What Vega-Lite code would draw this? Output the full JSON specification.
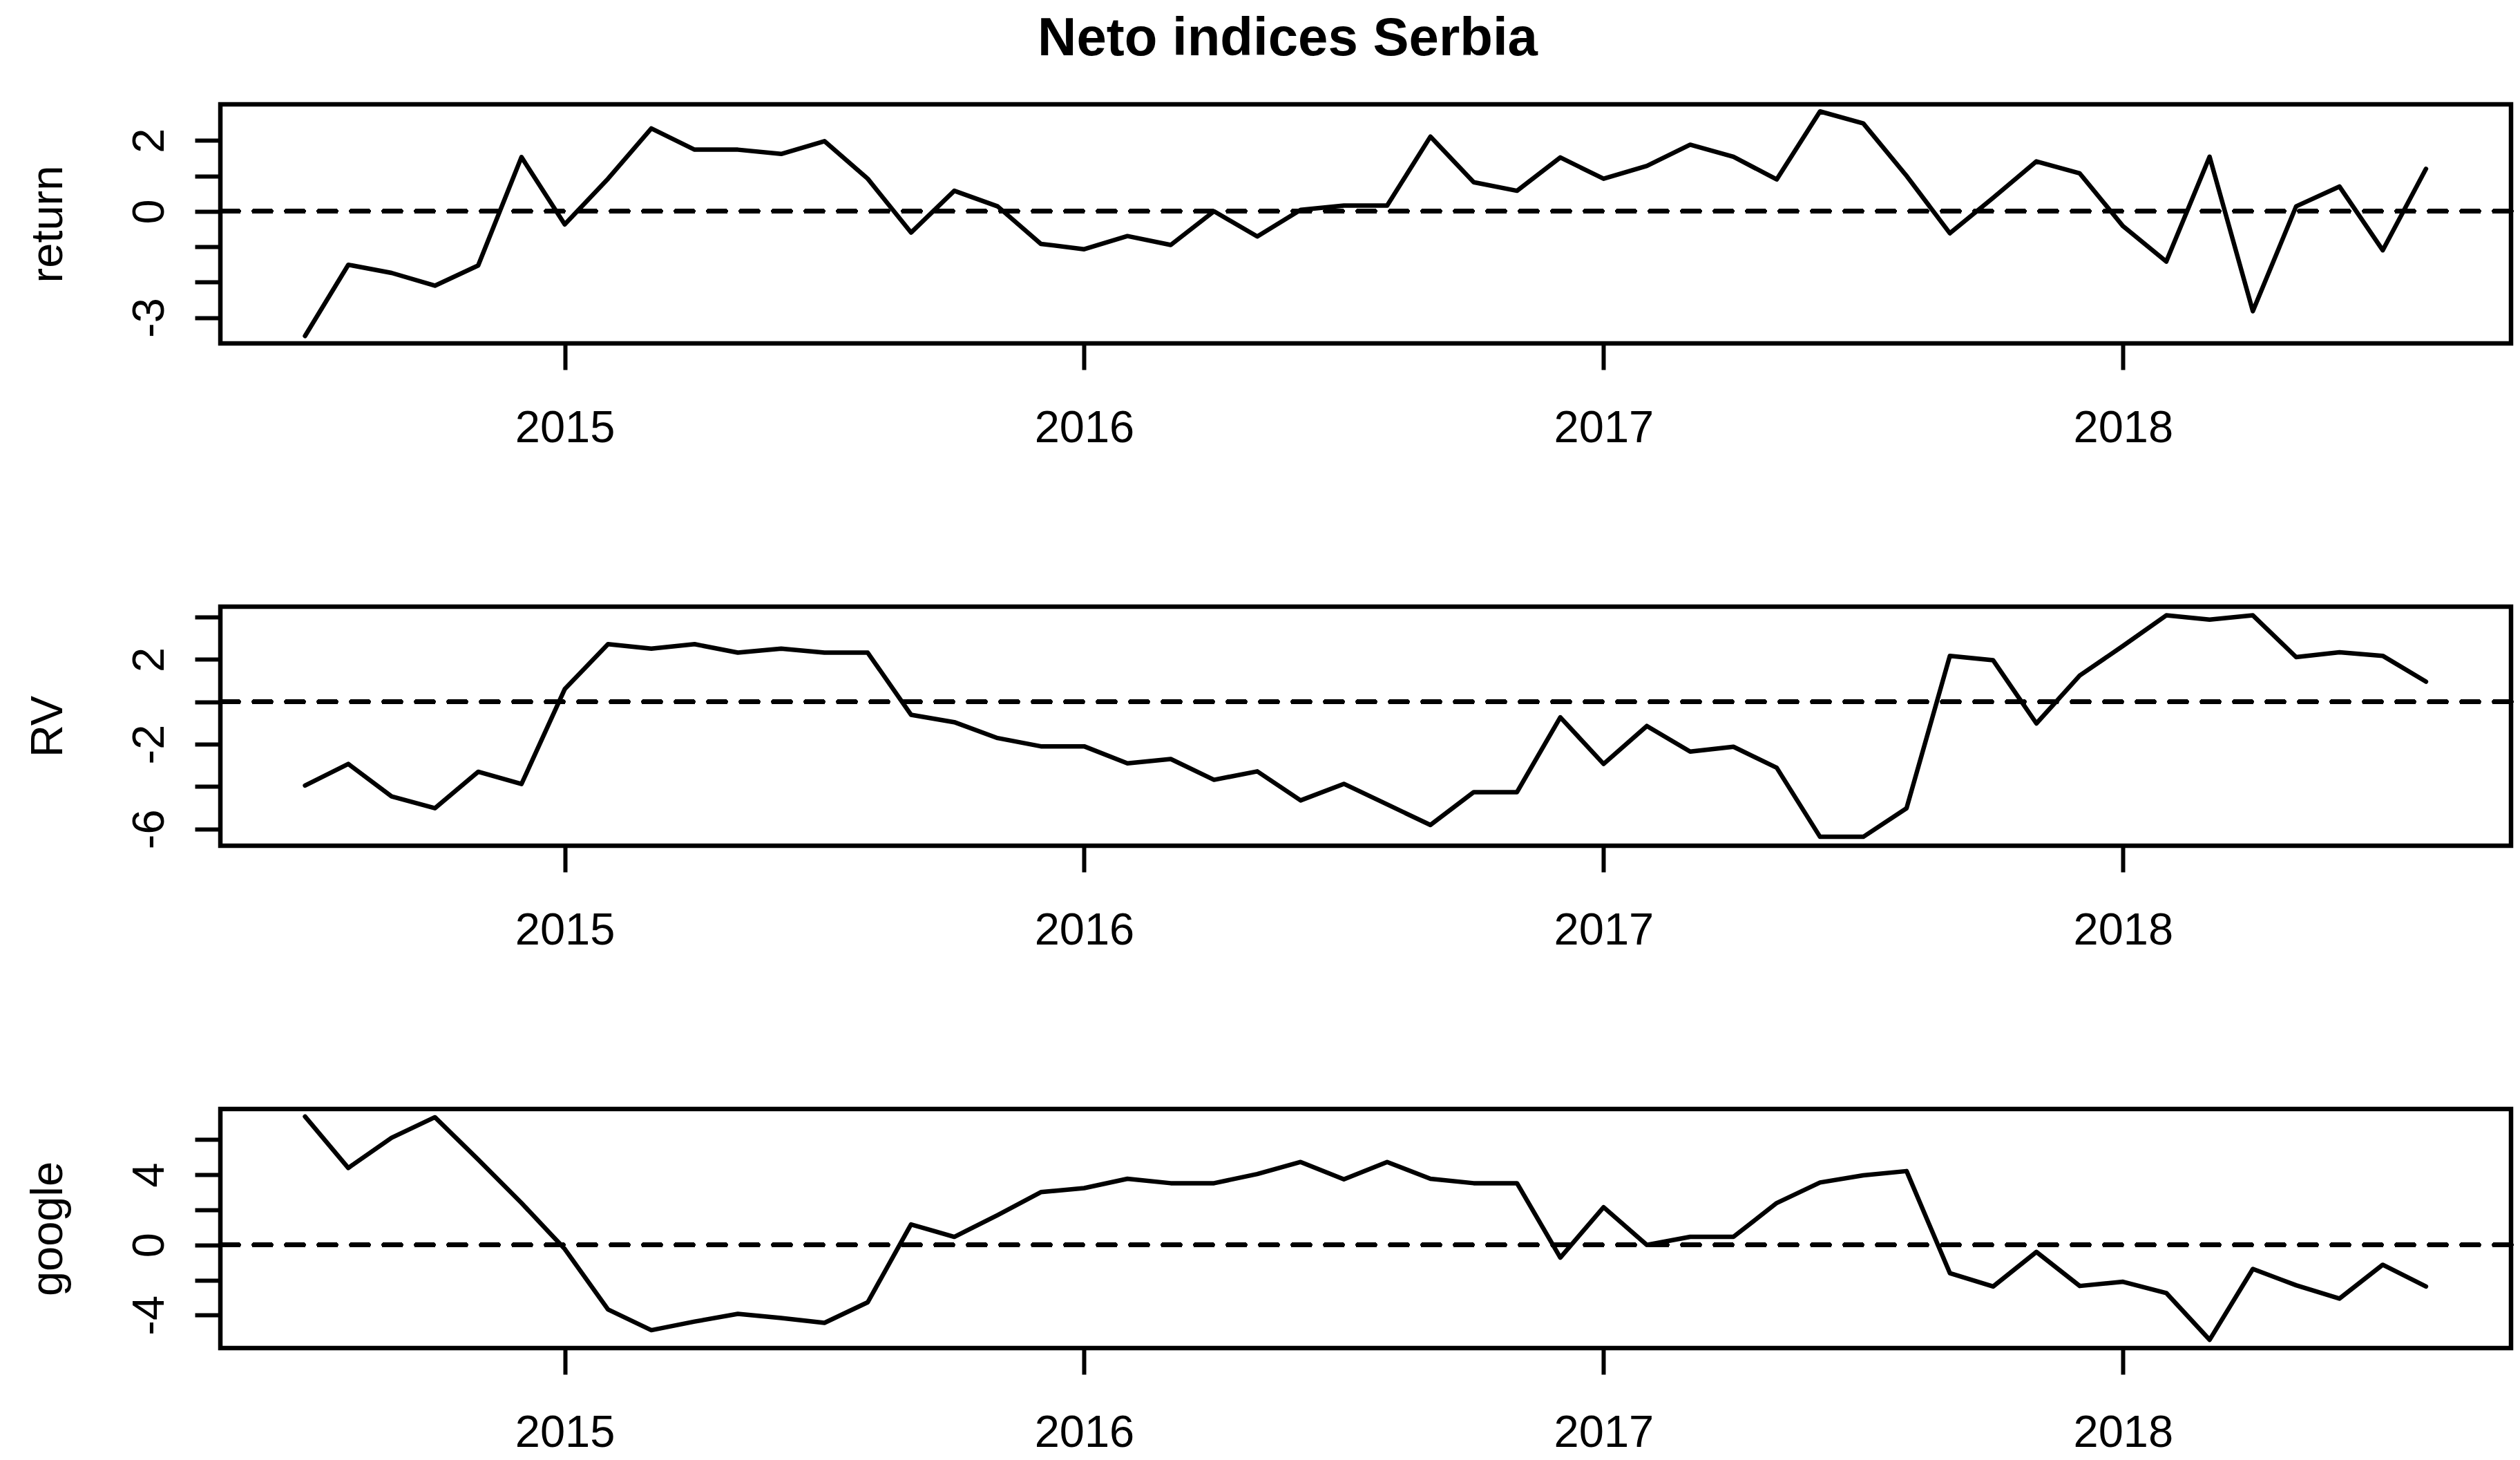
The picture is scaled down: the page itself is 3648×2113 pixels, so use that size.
{
  "$schema": "https://vega.github.io/schema/vega-lite/v6.json",
  "background": "white",
  "padding": {"left": 33, "top": 17, "right": 10, "bottom": 10},
  "title": {"text": "Neto indices Serbia", "fontSize": 78, "fontWeight": "bold", "font": "Liberation Sans", "color": "black", "anchor": "middle", "frame": "group", "offset": -10, "baseline": "alphabetic", "dx": -113},
  "config": {
    "view": {"stroke": "black", "strokeWidth": 6.5},
    "font": "Liberation Sans",
    "axis": {"domain": false, "grid": false, "tickColor": "black", "tickWidth": 6, "tickSize": 37, "labelFont": "Liberation Sans", "labelFontSize": 65, "labelColor": "black", "titleFont": "Liberation Sans", "titleFontSize": 65, "titleFontWeight": "normal", "titleColor": "black", "labelOverlap": false, "labelFlush": false}
  },
  "datasets": {
    "d": [
      {"time": 2014.5, "return": -3.52, "RV": -3.95, "google": 7.32},
      {"time": 2014.5833, "return": -1.51, "RV": -2.93, "google": 4.39},
      {"time": 2014.6667, "return": -1.74, "RV": -4.46, "google": 6.11},
      {"time": 2014.75, "return": -2.10, "RV": -5.02, "google": 7.28},
      {"time": 2014.8333, "return": -1.53, "RV": -3.30, "google": 4.87},
      {"time": 2014.9167, "return": 1.53, "RV": -3.88, "google": 2.39},
      {"time": 2015.0, "return": -0.37, "RV": 0.60, "google": -0.23},
      {"time": 2015.0833, "return": 0.92, "RV": 2.72, "google": -3.68},
      {"time": 2015.1667, "return": 2.34, "RV": 2.51, "google": -4.86},
      {"time": 2015.25, "return": 1.74, "RV": 2.72, "google": -4.37},
      {"time": 2015.3333, "return": 1.74, "RV": 2.32, "google": -3.93},
      {"time": 2015.4167, "return": 1.62, "RV": 2.51, "google": -4.17},
      {"time": 2015.5, "return": 1.98, "RV": 2.32, "google": -4.44},
      {"time": 2015.5833, "return": 0.92, "RV": 2.32, "google": -3.27},
      {"time": 2015.6667, "return": -0.60, "RV": -0.61, "google": 1.17},
      {"time": 2015.75, "return": 0.58, "RV": -0.96, "google": 0.46},
      {"time": 2015.8333, "return": 0.14, "RV": -1.71, "google": 1.70},
      {"time": 2015.9167, "return": -0.92, "RV": -2.10, "google": 3.01},
      {"time": 2016.0, "return": -1.07, "RV": -2.10, "google": 3.24},
      {"time": 2016.0833, "return": -0.70, "RV": -2.90, "google": 3.77},
      {"time": 2016.1667, "return": -0.95, "RV": -2.70, "google": 3.52},
      {"time": 2016.25, "return": 0.00, "RV": -3.68, "google": 3.52},
      {"time": 2016.3333, "return": -0.71, "RV": -3.28, "google": 4.04},
      {"time": 2016.4167, "return": 0.04, "RV": -4.65, "google": 4.73},
      {"time": 2016.5, "return": 0.16, "RV": -3.87, "google": 3.74},
      {"time": 2016.5833, "return": 0.16, "RV": -4.84, "google": 4.73},
      {"time": 2016.6667, "return": 2.11, "RV": -5.81, "google": 3.77},
      {"time": 2016.75, "return": 0.82, "RV": -4.26, "google": 3.52},
      {"time": 2016.8333, "return": 0.58, "RV": -4.26, "google": 3.52},
      {"time": 2016.9167, "return": 1.52, "RV": -0.73, "google": -0.72},
      {"time": 2017.0, "return": 0.92, "RV": -2.93, "google": 2.15},
      {"time": 2017.0833, "return": 1.28, "RV": -1.14, "google": 0.00},
      {"time": 2017.1667, "return": 1.88, "RV": -2.35, "google": 0.46},
      {"time": 2017.25, "return": 1.54, "RV": -2.12, "google": 0.46},
      {"time": 2017.3333, "return": 0.90, "RV": -3.11, "google": 2.39},
      {"time": 2017.4167, "return": 2.82, "RV": -6.37, "google": 3.56},
      {"time": 2017.5, "return": 2.48, "RV": -6.37, "google": 3.97},
      {"time": 2017.5833, "return": 1.00, "RV": -5.02, "google": 4.21},
      {"time": 2017.6667, "return": -0.62, "RV": 2.17, "google": -1.61},
      {"time": 2017.75, "return": 0.38, "RV": 1.96, "google": -2.37},
      {"time": 2017.8333, "return": 1.41, "RV": -1.02, "google": -0.40},
      {"time": 2017.9167, "return": 1.07, "RV": 1.24, "google": -2.34},
      {"time": 2018.0, "return": -0.42, "RV": 2.64, "google": -2.10},
      {"time": 2018.0833, "return": -1.42, "RV": 4.08, "google": -2.74},
      {"time": 2018.1667, "return": 1.54, "RV": 3.88, "google": -5.41},
      {"time": 2018.25, "return": -2.82, "RV": 4.08, "google": -1.37},
      {"time": 2018.3333, "return": 0.14, "RV": 2.11, "google": -2.30},
      {"time": 2018.4167, "return": 0.70, "RV": 2.34, "google": -3.06},
      {"time": 2018.5, "return": -1.10, "RV": 2.17, "google": -1.13},
      {"time": 2018.5833, "return": 1.20, "RV": 0.95, "google": -2.37}
    ]
  },
  "spacing": 381,
  "bounds": "flush",
  "vconcat": [
    {
      "width": 3316, "height": 346,
      "data": {"name": "d"},
      "layer": [
        {
          "mark": {"type": "line", "strokeWidth": 6.5, "color": "black", "strokeJoin": "round", "strokeCap": "round"},
          "encoding": {
            "x": {"field": "time", "type": "quantitative", "scale": {"domain": [2014.337, 2018.747], "nice": false, "zero": false},
                  "axis": {"values": [2015, 2016, 2017, 2018], "format": "d", "title": null, "tickSize": 38, "labelPadding": 53, "labelBaseline": "top", "labelAlign": "center"}},
            "y": {"field": "return", "type": "quantitative", "scale": {"domain": [-3.73, 3.02], "nice": false, "zero": false},
                  "axis": {"values": [-3, -2, -1, 0, 1, 2], "labelExpr": "datum.value == -3 ? '-3' : datum.value == 0 ? '0' : datum.value == 2 ? '2' : ''", "labelAngle": 270, "labelAlign": "center", "labelBaseline": "alphabetic", "labelPadding": 46, "title": "return", "titleAngle": 270, "titleAlign": "center", "titleBaseline": "alphabetic", "titleX": -230, "titleY": 173}}
          }
        },
        {
          "mark": {"type": "rule", "strokeDash": [24, 23], "strokeWidth": 6.5, "strokeCap": "round", "color": "black"},
          "encoding": {"y": {"datum": 0, "type": "quantitative"}}
        }
      ]
    },
    {
      "width": 3316, "height": 346,
      "data": {"name": "d"},
      "layer": [
        {
          "mark": {"type": "line", "strokeWidth": 6.5, "color": "black", "strokeJoin": "round", "strokeCap": "round"},
          "encoding": {
            "x": {"field": "time", "type": "quantitative", "scale": {"domain": [2014.337, 2018.747], "nice": false, "zero": false},
                  "axis": {"values": [2015, 2016, 2017, 2018], "format": "d", "title": null, "tickSize": 38, "labelPadding": 53, "labelBaseline": "top", "labelAlign": "center"}},
            "y": {"field": "RV", "type": "quantitative", "scale": {"domain": [-6.79, 4.49], "nice": false, "zero": false},
                  "axis": {"values": [-6, -4, -2, 0, 2, 4], "labelExpr": "datum.value == -6 ? '-6' : datum.value == -2 ? '-2' : datum.value == 2 ? '2' : ''", "labelAngle": 270, "labelAlign": "center", "labelBaseline": "alphabetic", "labelPadding": 46, "title": "RV", "titleAngle": 270, "titleAlign": "center", "titleBaseline": "alphabetic", "titleX": -230, "titleY": 173}}
          }
        },
        {
          "mark": {"type": "rule", "strokeDash": [24, 23], "strokeWidth": 6.5, "strokeCap": "round", "color": "black"},
          "encoding": {"y": {"datum": 0, "type": "quantitative"}}
        }
      ]
    },
    {
      "width": 3316, "height": 346,
      "data": {"name": "d"},
      "layer": [
        {
          "mark": {"type": "line", "strokeWidth": 6.5, "color": "black", "strokeJoin": "round", "strokeCap": "round"},
          "encoding": {
            "x": {"field": "time", "type": "quantitative", "scale": {"domain": [2014.337, 2018.747], "nice": false, "zero": false},
                  "axis": {"values": [2015, 2016, 2017, 2018], "format": "d", "title": null, "tickSize": 38, "labelPadding": 53, "labelBaseline": "top", "labelAlign": "center"}},
            "y": {"field": "google", "type": "quantitative", "scale": {"domain": [-5.88, 7.75], "nice": false, "zero": false},
                  "axis": {"values": [-4, -2, 0, 2, 4, 6], "labelExpr": "datum.value == -4 ? '-4' : datum.value == 0 ? '0' : datum.value == 4 ? '4' : ''", "labelAngle": 270, "labelAlign": "center", "labelBaseline": "alphabetic", "labelPadding": 46, "title": "google", "titleAngle": 270, "titleAlign": "center", "titleBaseline": "alphabetic", "titleX": -230, "titleY": 173}}
          }
        },
        {
          "mark": {"type": "rule", "strokeDash": [24, 23], "strokeWidth": 6.5, "strokeCap": "round", "color": "black"},
          "encoding": {"y": {"datum": 0, "type": "quantitative"}}
        }
      ]
    }
  ]
}
